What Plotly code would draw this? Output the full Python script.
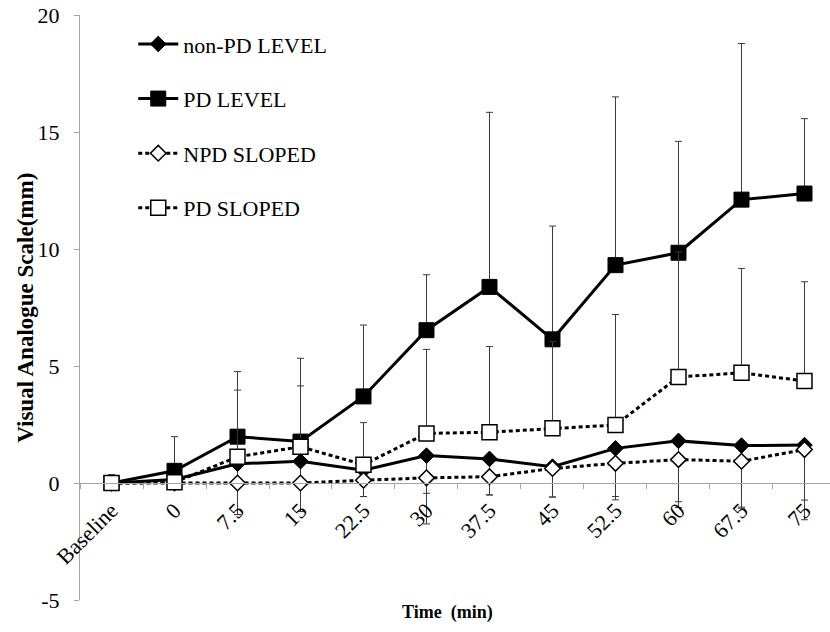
import plotly.graph_objects as go

# Time points (minutes after baseline)
categories = ["Baseline", "0", "7.5", "15", "22.5", "30", "37.5", "45", "52.5", "60", "67.5", "75"]

# Mean VAS scores (mm) per group
non_pd_level = [0, 0.15, 0.82, 0.93, 0.55, 1.17, 1.03, 0.70, 1.48, 1.80, 1.60, 1.62]
pd_level = [0, 0.52, 1.98, 1.77, 3.70, 6.53, 8.38, 6.14, 9.31, 9.84, 12.11, 12.37]
npd_sloped = [0, 0.0, 0.0, 0.0, 0.12, 0.22, 0.27, 0.62, 0.84, 1.00, 0.93, 1.43]
pd_sloped = [0, 0.03, 1.12, 1.55, 0.78, 2.12, 2.17, 2.34, 2.48, 4.53, 4.71, 4.36]

# Standard deviations: PD groups shown upward, non-PD groups shown downward
pd_level_sd = [0.35, 1.46, 2.78, 3.56, 3.05, 2.37, 7.46, 4.84, 7.19, 4.76, 6.67, 3.20]
pd_sloped_sd = [0.35, 0.27, 2.85, 2.60, 1.80, 3.59, 3.66, 3.70, 4.72, 5.35, 4.46, 4.24]
non_pd_level_sd = [0, 0.10, 2.17, 2.15, 1.13, 2.92, 1.54, 1.30, 2.20, 2.85, 2.68, 3.19]
npd_sloped_sd = [0, 0.0, 1.35, 1.22, 0.70, 0.66, 0.78, 1.22, 1.42, 1.80, 1.96, 2.16]

# y-axis ticks
y_tick_values = [-5, 0, 5, 10, 15, 20]
y_tick_labels = ["-5", "0", "5", "10", "15", "20"]

FONT = "Liberation Serif"
ERR_COLOR = "#3a3a3a"
AXIS_COLOR = "#a6a6a6"
zeros = [0] * len(categories)


def err(values, upward):
    if upward:
        return dict(type="data", symmetric=False, array=values, arrayminus=zeros,
                    color=ERR_COLOR, thickness=1, width=3.5)
    return dict(type="data", symmetric=False, array=zeros, arrayminus=values,
                color=ERR_COLOR, thickness=1, width=3.5)


fig = go.Figure()

fig.add_trace(go.Scatter(
    x=categories, y=non_pd_level, name="non-PD LEVEL", legendgroup="a",
    mode="lines+markers",
    line=dict(color="black", width=3),
    marker=dict(symbol="diamond", size=12, color="black", line=dict(color="black", width=1)),
    error_y=err(non_pd_level_sd, False),
))
fig.add_trace(go.Scatter(
    x=categories, y=pd_level, name="PD LEVEL", legendgroup="b",
    mode="lines+markers",
    line=dict(color="black", width=3),
    marker=dict(symbol="square", size=15, color="black", line=dict(color="black", width=1)),
    error_y=err(pd_level_sd, True),
))
fig.add_trace(go.Scatter(
    x=categories, y=npd_sloped, name="NPD SLOPED", legendgroup="c",
    mode="lines+markers",
    line=dict(color="black", width=3, dash="4px,3px"),
    marker=dict(symbol="diamond", size=12, color="white", line=dict(color="black", width=1.5)),
    error_y=err(npd_sloped_sd, False),
))
fig.add_trace(go.Scatter(
    x=categories, y=pd_sloped, name="PD SLOPED", legendgroup="d",
    mode="lines+markers",
    line=dict(color="black", width=3, dash="4px,3px"),
    marker=dict(symbol="square", size=15, color="white", line=dict(color="black", width=1.5)),
    error_y=err(pd_sloped_sd, True),
))

fig.update_layout(
    width=830, height=632,
    margin=dict(l=80, r=0, t=15, b=32),
    paper_bgcolor="white", plot_bgcolor="white",
    font=dict(family=FONT, size=21, color="black"),
    showlegend=True,
    legend=dict(
        x=0.071, y=0.986, xanchor="left", yanchor="top",
        bgcolor="rgba(0,0,0,0)", borderwidth=0,
        font=dict(family=FONT, size=22, color="black"),
        itemwidth=40, tracegroupgap=23, traceorder="grouped",
    ),
    xaxis=dict(
        type="category", range=[-0.5, 11.405],
        anchor="free", position=0.2,
        showline=True, linecolor=AXIS_COLOR, linewidth=1,
        ticks="outside", tickson="boundaries", ticklen=5, tickcolor=AXIS_COLOR,
        tickangle=-45, showgrid=False, zeroline=False,
        tickfont=dict(family=FONT, size=22, color="black"),
        ticklabelstandoff=5,
    ),
    yaxis=dict(
        range=[-5, 20], tickvals=y_tick_values, ticktext=y_tick_labels,
        showline=True, linecolor=AXIS_COLOR, linewidth=1,
        ticks="outside", ticklen=5, tickcolor=AXIS_COLOR,
        showgrid=False, zeroline=False,
        tickfont=dict(family=FONT, size=22, color="black"),
        ticklabelstandoff=10,
    ),
    annotations=[
        dict(text="<b>Visual Analogue Scale(mm)</b>", textangle=-90,
             xref="paper", yref="paper", x=-0.073, y=0.50,
             xanchor="center", yanchor="middle", showarrow=False,
             font=dict(family=FONT, size=23, color="black")),
        dict(text="<b>Time  (min)</b>",
             xref="paper", yref="paper", x=0.49, y=-0.021,
             xanchor="center", yanchor="middle", showarrow=False,
             font=dict(family=FONT, size=18, color="black")),
    ],
)

fig.write_html("out.html")
